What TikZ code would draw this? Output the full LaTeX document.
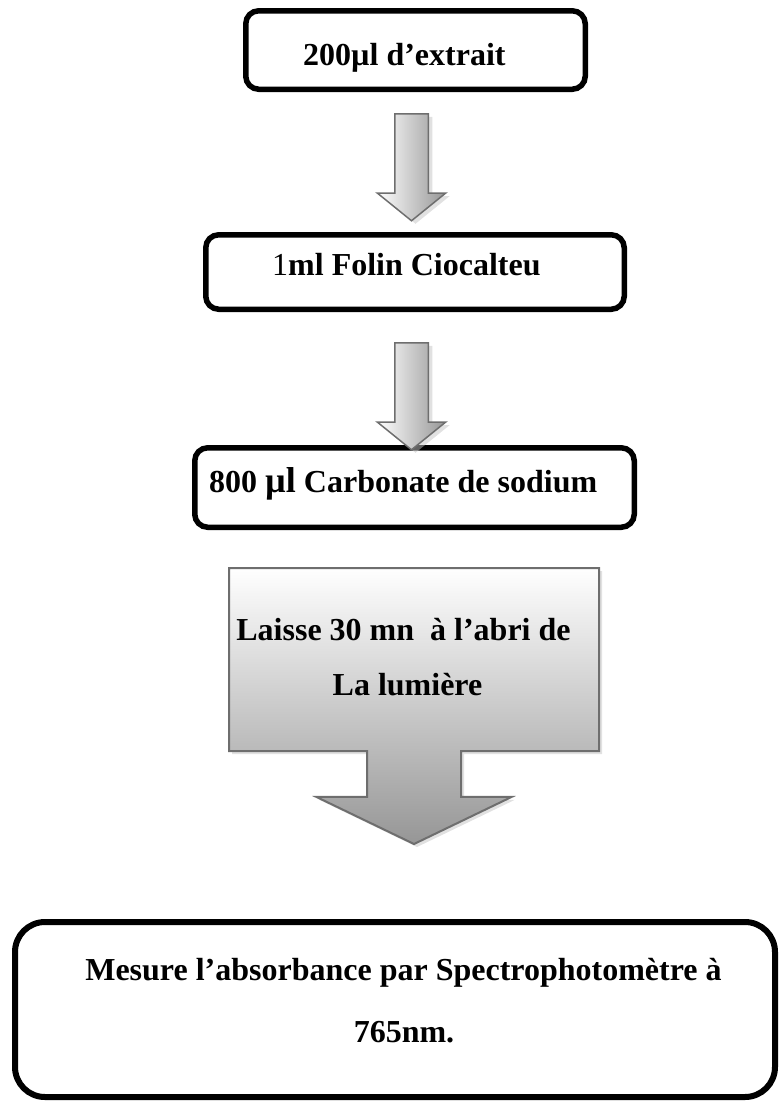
\documentclass[tikz,border=0pt]{standalone}
\usepackage{fontspec}
\setmainfont{Liberation Serif}
\usetikzlibrary{shapes.arrows, shadows}

\definecolor{arrowline}{RGB}{110,110,110}
\definecolor{arrowdark}{RGB}{150,150,150}
\definecolor{boxdark}{RGB}{165,165,165}
\definecolor{shadowgray}{RGB}{195,195,195}

\tikzset{
  stepbox/.style={draw, line width=5.5pt, rounded corners=13pt, fill=white, inner sep=0pt},
  steptext/.style={font=\bfseries\fontsize{32}{38}\selectfont, inner sep=0pt},
  downarrow/.style={single arrow, anchor=tail, rotate=-90, draw=arrowline, line width=1.5pt,
    inner sep=16pt, minimum height=107pt, single arrow head extend=17.5pt,
    single arrow tip angle=102, left color=white, right color=arrowdark,
    drop shadow={shadow xshift=4pt, shadow yshift=-3pt, fill=shadowgray}},
  waitbox/.style={arrow box, draw=arrowline, line width=2pt, inner sep=0pt,
    minimum width=370pt, minimum height=183pt,
    arrow box north arrow=0pt, arrow box east arrow=0pt, arrow box west arrow=0pt,
    arrow box arrows={south:92pt from border}, arrow box shaft width=94pt,
    arrow box head extend=50.5pt, arrow box tip angle=128.5,
    top color=white, bottom color=arrowdark,
    drop shadow={shadow xshift=3pt, shadow yshift=-3pt, fill=shadowgray}}
}

\begin{document}
\begin{tikzpicture}[x=1pt, y=-1pt]
	\useasboundingbox (0,0) rectangle (781,1104);

	% boxes
	\node (b1) at (415.5,50) [stepbox, minimum width=339.5pt, minimum height=78.5pt] {};
	\node (b2) at (415,272) [stepbox, minimum width=418.5pt, minimum height=74.5pt] {};
	\node (b3) at (414.5,487.5) [stepbox, minimum width=439.5pt, minimum height=79.5pt] {};
	\node (c1) at (414,659.5) [waitbox] {};
	\node (b4) at (395,1009.5) [stepbox, line width=6pt, rounded corners=30pt, minimum width=760pt, minimum height=175pt] {};

	% arrows
	\node (a1) at (411.5,113) [downarrow] {};
	\node (a2) at (411.5,342) [downarrow] {};

	% texts
	\node (t1) at (303,65) [steptext, anchor=base west] {200µl d’extrait};
	\node (t2) at (272,275) [steptext, anchor=base west] {{\mdseries 1}ml Folin Ciocalteu};
	\node (t3) at (209,492) [steptext, anchor=base west] {800 {\fontsize{36}{38}\selectfont µl} Carbonate de sodium};
	\node (t4) at (403.5,640) [steptext, anchor=base] {Laisse 30 mn\ \ à l’abri de};
	\node (t5) at (407.5,695) [steptext, anchor=base] {La lumière};
	\node (t6) at (403.5,980) [steptext, anchor=base] {Mesure l’absorbance par Spectrophotomètre à};
	\node (t7) at (404,1042) [steptext, anchor=base] {765nm.};
\end{tikzpicture}
\end{document}
